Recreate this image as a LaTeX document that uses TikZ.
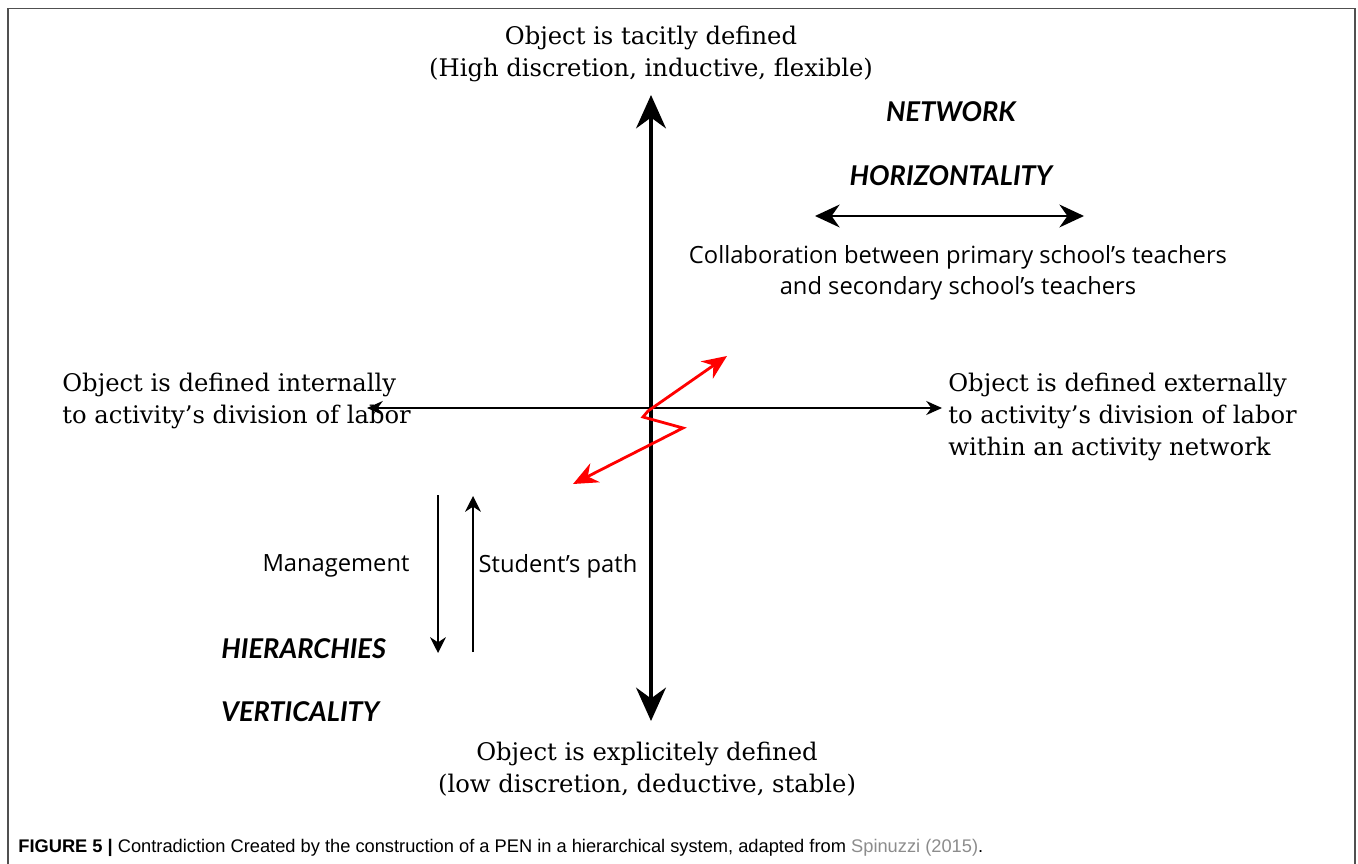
\documentclass[tikz,border=0pt]{standalone}
\usepackage{fontspec}
\usetikzlibrary{arrows.meta}
\newfontfamily\slabfont{DejaVu Serif}
\newfontfamily\plainfont{Open Sans}
\newfontfamily\brushfont{Lato}
\newfontfamily\capfont{Liberation Sans}
\definecolor{framegray}{RGB}{80,80,80}
\definecolor{citegray}{RGB}{140,140,140}
\begin{document}
\begin{tikzpicture}[x=0.02cm,y=-0.02cm,
    lbl/.style={font=\slabfont\fontsize{13.8}{18}\selectfont,inner sep=0},
    txt/.style={font=\plainfont\fontsize{13.5}{18}\selectfont,inner sep=0},
    tag/.style={font=\brushfont\bfseries\itshape\fontsize{15.5}{17}\selectfont,inner sep=0}]
    \useasboundingbox (0,0) rectangle (1358,864);
    \draw[framegray,line width=0.9pt] (8,864) -- (8,8.5) -- (1355,8.5) -- (1355,864);

    \node[lbl,align=center] (top) at (651,54) {Object is tacitly defined\\(High discretion, inductive, flexible)};
    \node[lbl,align=center] (bot) at (647,769) {Object is explicitely defined\\(low discretion, deductive, stable)};
    \node[lbl,align=left,anchor=west] (int) at (62,401) {Object is defined internally\\to activity’s division of labor};
    \node[lbl,align=left,anchor=west] (ext) at (948,417) {Object is defined externally\\to activity’s division of labor\\within an activity network};

    \node[tag] (net) at (951,112) {NETWORK};
    \node[tag] (hor) at (951,176) {HORIZONTALITY};
    \node[tag,anchor=west] (hier) at (221,649) {HIERARCHIES};
    \node[tag,anchor=west] (vert) at (221,712) {VERTICALITY};

    \node[txt,align=center] (collab) at (958,273) {Collaboration between primary school’s teachers\\and secondary school’s teachers};
    \node[txt] (man) at (336,566) {Management};
    \node[txt] (stu) at (558,566) {Student’s path};

    \coordinate (n) at (651,95);
    \coordinate (s) at (651,721);
    \coordinate (w) at (367,408);
    \coordinate (e) at (942,408);
    \coordinate (hl) at (815,216);
    \coordinate (hr) at (1084,216);
    \coordinate (m1) at (438,495);
    \coordinate (m2) at (438,653);
    \coordinate (p1) at (473,652);
    \coordinate (p2) at (473,496);
    \coordinate (r1) at (727,356);
    \coordinate (r2) at (648,411);
    \coordinate (r3) at (643,417);
    \coordinate (r4) at (683,428);
    \coordinate (r5) at (573,484);

    \draw[line width=1.8pt,{Stealth[length=19pt,width=17pt]}-{Stealth[length=19pt,width=17pt]}] (s) -- (n);
    \draw[line width=0.9pt,{Stealth[length=9pt,width=8pt]}-{Stealth[length=9pt,width=8pt]}] (w) -- (e);
    \draw[line width=1.2pt,{Stealth[length=14pt,width=13pt]}-{Stealth[length=14pt,width=13pt]}] (hl) -- (hr);
    \draw[line width=0.8pt,-{Stealth[length=9pt,width=9pt]}] (m1) -- (m2);
    \draw[line width=0.8pt,-{Stealth[length=9pt,width=9pt]}] (p1) -- (p2);
    \draw[red,line width=1.6pt,line join=miter,{Stealth[length=14pt,width=12pt]}-{Stealth[length=14pt,width=12pt]}] (r5) -- (r4) -- (r3) -- (r2) -- (r1);

    \node[font=\capfont\fontsize{10.4}{12}\selectfont,anchor=west,inner sep=0] (cap) at (18,848) {\textbf{FIGURE 5 |} Contradiction Created by the construction of a PEN in a hierarchical system, adapted from \textcolor{citegray}{Spinuzzi (2015)}.};
\end{tikzpicture}
\end{document}
